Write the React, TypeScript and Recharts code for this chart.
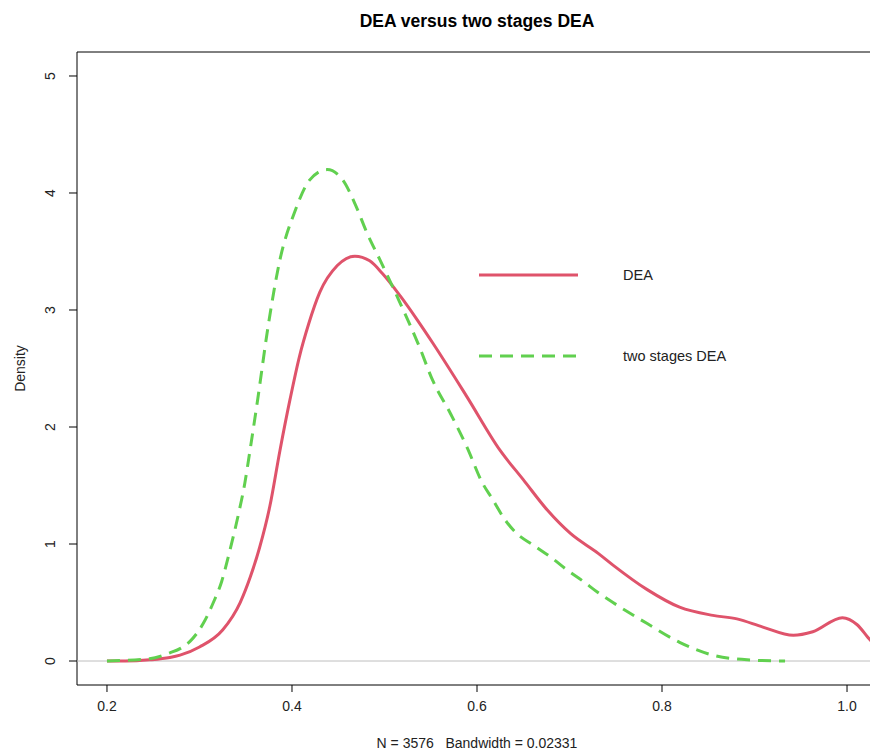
import { LineChart, Line, XAxis, YAxis, ReferenceLine, ReferenceArea, Legend } from "recharts";

// density estimate, plain DEA scores
const deaX = [
  0.2, 0.22, 0.246, 0.268, 0.279, 0.3, 0.325, 0.344, 0.355, 0.365, 0.376, 0.387, 0.398,
  0.408, 0.418, 0.43, 0.449, 0.468, 0.484, 0.498, 0.517, 0.535, 0.552, 0.589, 0.625, 0.65, 0.676,
  0.701, 0.731, 0.747, 0.784, 0.819, 0.855, 0.881, 0.909, 0.942, 0.963, 0.995, 1.011, 1.025, 1.032,
];
const deaY = [
  0.0, 0.0, 0.01, 0.03, 0.05, 0.12, 0.265, 0.5, 0.72, 0.97, 1.32, 1.8, 2.24,
  2.6, 2.88, 3.15, 3.38, 3.46, 3.42, 3.31, 3.12, 2.92, 2.72, 2.26, 1.8, 1.55, 1.29,
  1.09, 0.92, 0.82, 0.61, 0.46, 0.39, 0.36, 0.29, 0.22, 0.25, 0.37, 0.31, 0.18, 0.13,
];

// density estimate, two stages DEA scores
const twoX = [
  0.2, 0.246, 0.268, 0.28, 0.29, 0.304, 0.315, 0.324, 0.333, 0.342, 0.349, 0.355, 0.363, 0.374,
  0.387, 0.403, 0.419, 0.438, 0.455, 0.468, 0.481, 0.495, 0.514, 0.538, 0.552, 0.571, 0.589,
  0.606, 0.617, 0.63, 0.643, 0.661, 0.681, 0.697, 0.715, 0.73, 0.747, 0.784, 0.819, 0.855,
  0.892, 0.933,
];
const twoY = [
  0.0, 0.02, 0.07, 0.11, 0.17, 0.32, 0.5, 0.68, 0.95, 1.25, 1.52, 1.82, 2.24, 2.85,
  3.43, 3.84, 4.11, 4.2, 4.11, 3.91, 3.66, 3.43, 3.11, 2.68, 2.4, 2.12, 1.83,
  1.52, 1.38, 1.21, 1.09, 0.99, 0.88, 0.78, 0.68, 0.59, 0.5, 0.32, 0.16, 0.05,
  0.01, 0.0,
];

const xTicks = [0.2, 0.4, 0.6, 0.8, 1.0];
const yTicks = [0, 1, 2, 3, 4, 5];

const deaData = deaX.map((x, i) => ({ x, y: deaY[i] }));
const twoData = twoX.map((x, i) => ({ x, y: twoY[i] }));

const xMin = 0.1676;
const xMax = 1.0324;
const yMin = -0.205;
const yMax = 5.205;

const font = "'Liberation Sans', Arial, sans-serif";
const RED = "#DF536B";
const GREEN = "#61D04F";

const series = [
  { name: "DEA", color: RED, dash: undefined as string | undefined },
  { name: "two stages DEA", color: GREEN, dash: "13 8" },
];

const YTick = (props: any) => {
  const { x, y, payload } = props;
  return (
    <text
      x={x}
      y={y}
      transform={`rotate(-90, ${x}, ${y})`}
      textAnchor="middle"
      fontSize={14}
      fontFamily={font}
      fill="#222"
    >
      {payload.value}
    </text>
  );
};

const LegendBox = () => (
  <svg width={270} height={120}>
    {series.map((s, i) => (
      <g key={s.name}>
        <line
          x1={0}
          x2={99}
          y1={20 + i * 81}
          y2={20 + i * 81}
          stroke={s.color}
          strokeWidth={3}
          strokeDasharray={s.dash}
        />
        <text x={144} y={25 + i * 81} fontSize={14.5} fontFamily={font} fill="#222">
          {s.name}
        </text>
      </g>
    ))}
  </svg>
);

export default function App() {
  return (
    <div
      style={{
        position: "fixed",
        left: 0,
        top: 0,
        width: 870,
        height: 750,
        overflow: "hidden",
        background: "#fff",
      }}
    >
      <div
        style={{
          position: "absolute",
          left: 77,
          width: 800,
          top: 11,
          textAlign: "center",
          fontFamily: font,
          fontWeight: "bold",
          fontSize: 17.5,
          lineHeight: "20px",
          color: "#000",
        }}
      >
        DEA versus two stages DEA
      </div>
      <LineChart width={885} height={750} margin={{ top: 52, right: 8, left: 0, bottom: 0 }}>
        <XAxis
          dataKey="x"
          type="number"
          domain={[xMin, xMax]}
          ticks={xTicks}
          tickFormatter={(v: number) => v.toFixed(1)}
          allowDataOverflow
          height={65}
          axisLine={false}
          tickSize={7}
          tickMargin={9}
          tickLine={{ stroke: "#000" }}
          tick={{ fontSize: 14, fontFamily: font, fill: "#222" }}
          label={{
            content: (p: any) => {
              const vb = p.viewBox || { x: 77, width: 800, y: 685 };
              return (
                <text
                  x={vb.x + vb.width / 2}
                  y={748}
                  textAnchor="middle"
                  fontSize={14}
                  fontFamily={font}
                  fill="#222"
                  style={{ whiteSpace: "pre" }}
                >
                  {"N = 3576   Bandwidth = 0.02331"}
                </text>
              );
            },
          }}
        />
        <YAxis
          type="number"
          domain={[yMin, yMax]}
          ticks={yTicks}
          allowDataOverflow
          width={77}
          axisLine={false}
          tickSize={8}
          tickMargin={14}
          tickLine={{ stroke: "#000" }}
          tick={<YTick />}
          label={{
            content: (p: any) => {
              const vb = p.viewBox || { y: 52, height: 633 };
              const cy = vb.y + vb.height / 2;
              return (
                <text
                  x={25}
                  y={cy}
                  transform={`rotate(-90, 25, ${cy})`}
                  textAnchor="middle"
                  fontSize={14}
                  fontFamily={font}
                  fill="#222"
                >
                  Density
                </text>
              );
            },
          }}
        />
        <ReferenceArea
          x1={xMin}
          x2={xMax}
          y1={yMin}
          y2={yMax}
          fill="none"
          stroke="#000"
          strokeWidth={1}
          ifOverflow="visible"
        />
        <ReferenceLine y={0} stroke="#BEBEBE" strokeWidth={1} />
        <Line
          data={deaData}
          dataKey="y"
          name="DEA"
          type="monotone"
          stroke={RED}
          strokeWidth={3}
          dot={false}
          activeDot={false}
          isAnimationActive={false}
        />
        <Line
          data={twoData}
          dataKey="y"
          name="two stages DEA"
          type="monotone"
          stroke={GREEN}
          strokeWidth={3}
          strokeDasharray="13 8"
          dot={false}
          activeDot={false}
          isAnimationActive={false}
        />
        <Legend
          verticalAlign="middle"
          align="center"
          content={<LegendBox />}
          wrapperStyle={{ position: "absolute", left: 479, top: 255, width: 270, height: 120 }}
        />
      </LineChart>
    </div>
  );
}
